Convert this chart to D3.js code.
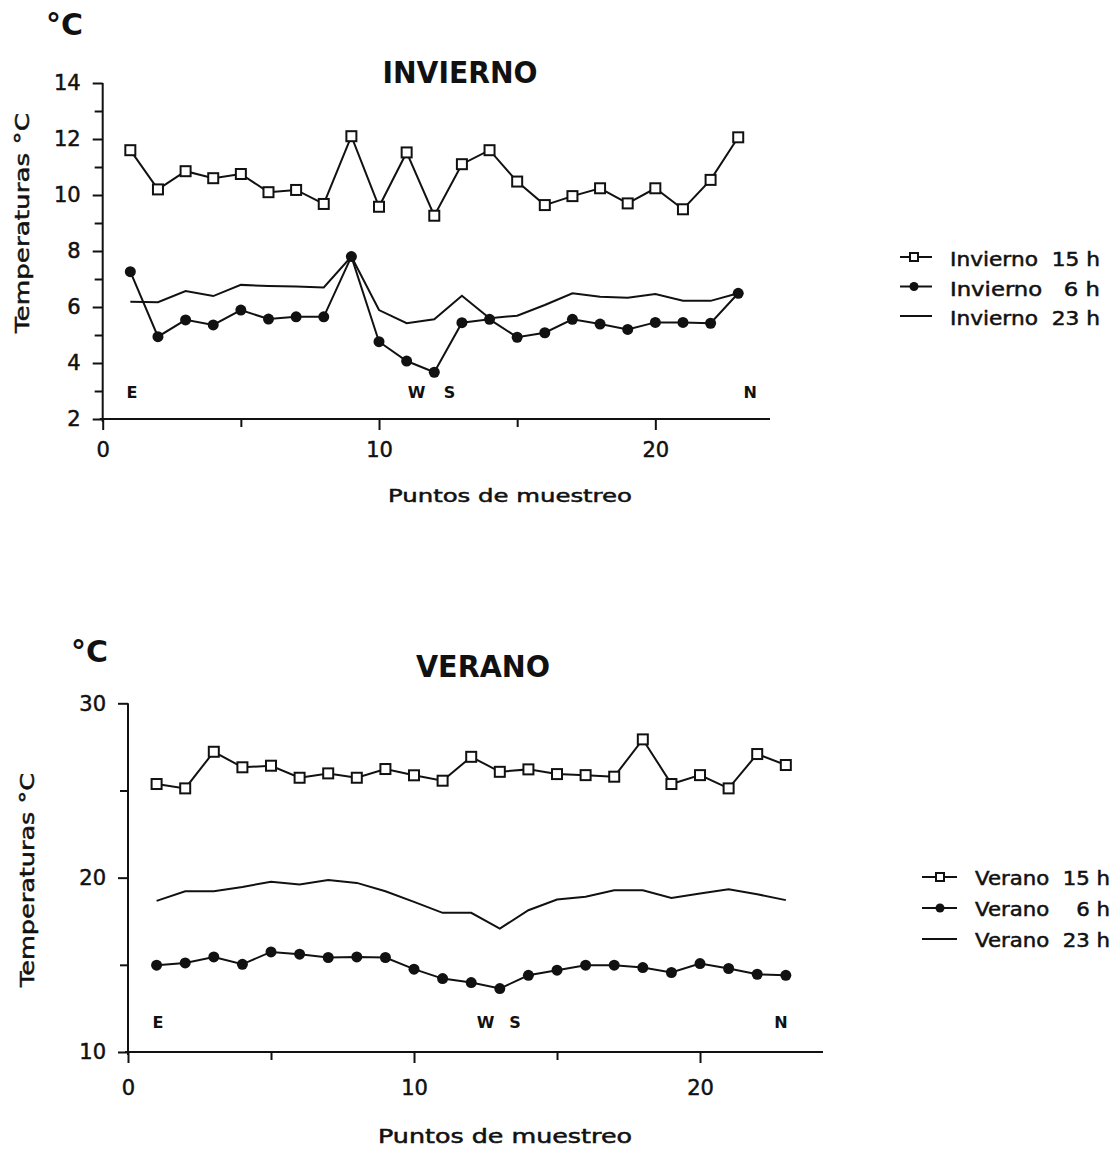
<!DOCTYPE html>
<html><head><meta charset="utf-8">
<script src="https://cdn.jsdelivr.net/npm/d3@7"></script>
<style>
body{margin:0;background:#fff;}
text{font-family:"DejaVu Sans",sans-serif;fill:#111;}
.med{stroke:#111;stroke-width:0.5px;}
</style></head>
<body><svg id="c" width="1116" height="1149"></svg>
<script>
const puntos = d3.range(1, 24);
const invierno15 = [11.6,10.2,10.85,10.6,10.75,10.1,10.18,9.68,12.1,9.58,11.52,9.26,11.1,11.6,10.48,9.64,9.96,10.24,9.7,10.24,9.49,10.54,12.06];
const invierno6  = [7.26,4.94,5.54,5.36,5.89,5.57,5.65,5.65,7.8,4.76,4.07,3.67,5.44,5.56,4.92,5.08,5.56,5.39,5.2,5.45,5.45,5.42,6.49];
const invierno23 = [6.19,6.17,6.57,6.39,6.79,6.75,6.73,6.7,7.8,5.89,5.42,5.56,6.4,5.6,5.69,6.07,6.49,6.37,6.33,6.46,6.22,6.22,6.49];
const verano15 = [25.37,25.12,27.22,26.33,26.42,25.73,25.98,25.73,26.23,25.87,25.56,26.93,26.07,26.21,25.94,25.88,25.79,27.93,25.37,25.88,25.12,27.09,26.46];
const verano6  = [14.98,15.11,15.45,15.03,15.74,15.61,15.42,15.45,15.42,14.75,14.21,13.98,13.64,14.4,14.69,14.98,14.98,14.84,14.56,15.07,14.79,14.46,14.4];
const verano23 = [18.67,19.22,19.22,19.47,19.76,19.61,19.86,19.7,19.22,18.61,17.98,17.98,17.08,18.13,18.75,18.9,19.28,19.28,18.84,19.09,19.34,19.05,18.71];
const invTicksMajor = [2,4,6,8,10,12,14];
const invTicksMinor = [3,5,7,9,11,13];
const verTicksMajor = [10,20,30];
const verTicksMinor = [15,25];
const xTicksMajor = [0,10,20];
const xTicksMinor = [5,15];
const puntosCard = [{t:"E",x:1.06},{t:"W",x:11.36},{t:"S",x:12.55},{t:"N",x:23.43}];
const puntosCardV = [{t:"E",x:1.05},{t:"W",x:12.5},{t:"S",x:13.53},{t:"N",x:22.83}];
const legendInv = ["Invierno  15 h","Invierno   6 h","Invierno  23 h"];
const legendVer = ["Verano  15 h","Verano    6 h","Verano  23 h"];

const svg = d3.select("#c");

function fitText(sel, len){
  return sel.attr("textLength", len).attr("lengthAdjust","spacingAndGlyphs");
}

function panel(o){
  const g = svg.append("g");
  const x = d3.scaleLinear().domain([0, o.xmax]).range([o.x0, o.x1]);
  const y = d3.scaleLinear().domain(o.ydom).range([o.y0, o.y1]);
  g.append("g").attr("transform",`translate(${o.x0},0)`)
    .call(d3.axisLeft(y).tickValues(o.yMajor).tickSize(10).tickPadding(12).tickFormat(d3.format("d")));
  g.append("g").attr("transform",`translate(${o.x0},0)`)
    .call(d3.axisLeft(y).tickValues(o.yMinor).tickSize(8).tickFormat(""));
  g.append("g").attr("transform",`translate(0,${o.y0})`)
    .call(d3.axisBottom(x).tickValues(xTicksMajor).tickSize(11).tickPadding(o.xPad).tickFormat(d3.format("d")));
  g.append("g").attr("transform",`translate(0,${o.y0})`)
    .call(d3.axisBottom(x).tickValues(xTicksMinor).tickSize(8).tickFormat(""));
  g.selectAll(".domain").remove();
  g.selectAll(".tick line").attr("stroke","#111").attr("stroke-width",2);
  g.selectAll(".tick text").attr("font-size",21).attr("fill","#111").attr("class","med");
  g.append("line").attr("x1",o.x0).attr("x2",o.x0).attr("y1",y(o.ydom[1])).attr("y2",o.y0+3).attr("stroke","#111").attr("stroke-width",2);
  g.append("line").attr("x1",o.x0-3).attr("x2",o.x1).attr("y1",o.y0).attr("y2",o.y0).attr("stroke","#111").attr("stroke-width",2);

  const line = d3.line().x((d,i)=>x(puntos[i])).y(d=>y(d));
  [o.s23,o.s6,o.s15].forEach(s=>{
    g.append("path").datum(s).attr("d",line).attr("fill","none").attr("stroke","#111").attr("stroke-width",2);
  });
  g.selectAll("circle.m6").data(o.s6).join("circle").attr("class","m6")
    .attr("cx",(d,i)=>x(puntos[i])).attr("cy",d=>y(d)).attr("r",5.5).attr("fill","#111");
  g.selectAll("rect.m15").data(o.s15).join("rect").attr("class","m15")
    .attr("x",(d,i)=>x(puntos[i])-5).attr("y",d=>y(d)-5).attr("width",10).attr("height",10)
    .attr("fill","#fff").attr("stroke","#111").attr("stroke-width",2);
  g.selectAll("text.card").data(o.card).join("text").attr("class","card")
    .attr("x",d=>x(d.x)).attr("y",o.cardY).attr("text-anchor","middle")
    .attr("font-size",16).attr("font-weight","bold").text(d=>d.t);
  fitText(g.append("text").attr("x",o.titleX).attr("y",o.titleY).attr("text-anchor","middle")
    .attr("font-size",30).attr("font-weight","bold").text(o.title), o.titleW);
  fitText(g.append("text").attr("x",o.degX).attr("y",o.degY).attr("font-size",30).attr("font-weight","bold").text("°C"), 37);
  fitText(g.append("text").attr("class","med").attr("transform",`translate(${o.ylabX},${o.ylabY}) rotate(-90)`).attr("text-anchor","middle")
    .attr("font-size",20).text("Temperaturas °C"), o.ylabW);
  fitText(g.append("text").attr("class","med").attr("x",o.xlabX).attr("y",o.xlabY).attr("text-anchor","middle")
    .attr("font-size",o.xlabFs).text("Puntos de muestreo"), o.xlabW);
  const lg = g.append("g");
  o.leg.forEach((t,i)=>{
    const yy = o.legY + i*o.legDy;
    lg.append("line").attr("x1",o.legX).attr("x2",o.legX+o.legW).attr("y1",yy).attr("y2",yy).attr("stroke","#111").attr("stroke-width",2);
    if(i===0) lg.append("rect").attr("x",o.legM-4).attr("y",yy-4).attr("width",8).attr("height",8).attr("fill","#fff").attr("stroke","#111").attr("stroke-width",2);
    if(i===1) lg.append("circle").attr("cx",o.legM).attr("cy",yy).attr("r",4.5).attr("fill","#111");
    fitText(lg.append("text").attr("class","med").attr("x",o.legTX).attr("y",yy+o.legTdy).attr("font-size",19)
      .attr("xml:space","preserve").style("white-space","pre").text(t), o.legTW);
  });
}

panel({xmax:24.15, x0:102.7, x1:770, ydom:[2,14], y0:419, y1:83, xPad:12,
  yMajor:invTicksMajor, yMinor:invTicksMinor,
  s15:invierno15, s6:invierno6, s23:invierno23, card:puntosCard, cardY:398,
  title:"INVIERNO", titleX:460, titleY:83, titleW:155, degX:46, degY:35,
  ylabX:29, ylabY:223, ylabW:220, xlabX:510, xlabY:502, xlabW:244, xlabFs:18,
  leg:legendInv, legX:900, legW:32, legM:914, legY:257, legDy:29.5, legTdy:9, legTX:950, legTW:150});

panel({xmax:24.3, x0:128, x1:823, ydom:[10,30], y0:1052, y1:703.3, xPad:17,
  yMajor:verTicksMajor, yMinor:verTicksMinor,
  s15:verano15, s6:verano6, s23:verano23, card:puntosCardV, cardY:1028,
  title:"VERANO", titleX:483, titleY:677, titleW:134, degX:71, degY:662,
  ylabX:34, ylabY:880, ylabW:214, xlabX:505, xlabY:1143, xlabW:254, xlabFs:19,
  leg:legendVer, legX:922, legW:35, legM:940, legY:877, legDy:31, legTdy:8, legTX:975, legTW:135});
</script>
</body></html>
